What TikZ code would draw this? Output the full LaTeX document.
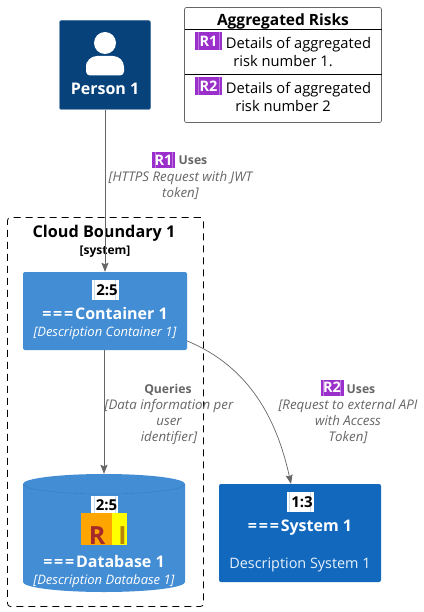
\documentclass[tikz,border=0pt]{standalone}
\usepackage{fontspec}
\setmainfont{Open Sans}
\usetikzlibrary{arrows.meta}
\definecolor{persB}{HTML}{08427B}
\definecolor{contB}{HTML}{438DD5}
\definecolor{sysB}{HTML}{1168BD}
\definecolor{riskP}{HTML}{9A2FCC}
\definecolor{lineG}{HTML}{666666}
\definecolor{descW}{HTML}{E8F1FA}
\definecolor{orangeR}{HTML}{FFA500}
\definecolor{yellowI}{HTML}{FFFF00}
\newcommand{\eqs}{=\kern1.8pt=\kern1.8pt=\kern1.8pt}
\tikzset{
 x=1pt,y=-1pt,
 box/.style={rounded corners=2pt,inner sep=0pt,minimum width=#1},
 conn/.style={draw=lineG,line width=.7pt,-{Stealth[length=9pt,width=7pt,inset=1.5pt]}},
 txt/.style={anchor=base,inner sep=0pt,align=center},
 whitebold/.style={txt,text=white,font=\fontsize{16}{18}\selectfont\bfseries},
 whiteit/.style={txt,text=white,font=\fontsize{13}{15}\selectfont\itshape},
 legtxt/.style={txt,text=black,font=\fontsize{14.7}{17}\selectfont},
 lab/.style={txt,text=lineG,font=\fontsize{12.2}{14}\selectfont\bfseries},
 labit/.style={txt,text=lineG,font=\fontsize{13.3}{16}\selectfont\itshape},
 stripes/.style={path picture={
   \draw[#1,line width=.5pt] ([xshift=3pt]path picture bounding box.north west) -- ([xshift=3pt]path picture bounding box.south west);
   \draw[#1,line width=.5pt] ([xshift=-3pt]path picture bounding box.north east) -- ([xshift=-3pt]path picture bounding box.south east);}},
 riskbadge/.style={fill=riskP,text=white,inner sep=0pt,minimum width=#1,stripes=riskP!65!white,font=\fontsize{14.5}{15}\selectfont\bfseries},
 sprite/.style={fill=white,text=black,inner sep=0pt,minimum width=27pt,minimum height=20pt,stripes=contB!30!white,font=\fontsize{15}{16}\selectfont\bfseries},
}
\begin{document}
\begin{tikzpicture}
\useasboundingbox (0,0) rectangle (423,612);
\fill[white] (0,0) rectangle (423,612);
% boundary
\node[draw=black,dash pattern=on 7pt off 5pt,rounded corners=3pt,line width=.8pt,inner sep=0pt,minimum width=196pt,minimum height=389pt] (bound) at (105.5,412) {};
\node[txt,font=\fontsize{16.2}{18}\selectfont\bfseries] (boundT) at (104,237) {Cloud Boundary 1};
\node[txt,font=\fontsize{12}{14}\selectfont\bfseries] (boundS) at (105,254) {[system]};
% person
\node[box=91pt,fill=persB,draw=persB!80!white,minimum height=89pt] (person) at (105,65) {};
\fill[white] (105,43) circle (11);
\fill[white] (86,66) [rounded corners=11pt] -- (86,56) -- (124,56) [rounded corners=4pt] -- (124,75.5) -- (86,75.5) -- cycle;
\node[whitebold] (personT) at (105,95) {Person 1};
% legend
\node[draw=black!60,rounded corners=2pt,line width=.7pt,inner sep=0pt,minimum width=197pt,minimum height=115pt] (legend) at (283,65) {};
\draw[black,line width=.8pt] (184.5,29.5) -- (381.5,29.5) (184.5,74.5) -- (381.5,74.5);
\node[txt,font=\fontsize{15.5}{17}\selectfont\bfseries] (legT) at (283,26) {Aggregated Risks};
\node[riskbadge=27pt,minimum height=18pt] (legR1) at (208.5,41) {R1};
\node[riskbadge=27pt,minimum height=18pt] (legR2) at (208.5,86) {R2};
\node[legtxt] (legA1) at (298.5,49) {Details of aggregated};
\node[legtxt] (legA2) at (283,67) {risk number 1.};
\node[legtxt] (legB1) at (298.5,94) {Details of aggregated};
\node[legtxt] (legB2) at (283,112) {risk number 2};
% container
\node[box=164pt,fill=contB,minimum height=78pt] (cont) at (105,311) {};
\node[sprite] (contS) at (105,290) {\hspace*{4pt}2:5};
\node[whitebold] (contT) at (105,319) {\eqs Container 1};
\node[whiteit] (contD) at (105,336) {[Description Container 1]};
% database
\node[inner sep=0pt,minimum width=162pt,minimum height=118pt] (db) at (104,533) {};
\fill[contB] (23,484) arc[start angle=180,end angle=360,x radius=81,y radius=10] -- (185,582) arc[start angle=0,end angle=180,x radius=81,y radius=10] -- cycle;
\draw[contB!88!black,line width=.4pt] (23,484) arc[start angle=180,end angle=0,x radius=81,y radius=10];
\node[sprite,minimum height=18.5pt] (dbS) at (104.5,505) {\hspace*{4pt}2:5};
\fill[orangeR] (81,513) rectangle (112,545);
\fill[yellowI] (112,513) rectangle (127,545);
\node[txt,text={rgb,255:red,165;green,42;blue,42},font=\fontsize{25}{27}\selectfont\bfseries] (dbR) at (97,544) {R};
\node[txt,text={rgb,255:red,184;green,134;blue,11},font=\fontsize{25}{27}\selectfont\bfseries] (dbI) at (122.5,544) {I};
\node[whitebold] (dbT) at (104,567) {\eqs Database 1};
\node[whiteit] (dbD) at (104,584) {[Description Database 1]};
% system
\node[box=162pt,fill=sysB,minimum height=98pt] (sys) at (300,533) {};
\node[sprite] (sysS) at (300,501.7) {\hspace*{4pt}1:3};
\node[whitebold] (sysT) at (300,531) {\eqs System 1};
\node[txt,text=descW,font=\fontsize{14.4}{16}\selectfont] (sysD) at (300,568) {Description System 1};
% connectors
\draw[conn] (person) -- (cont);
\draw[conn] (cont.south-|db) -- (db.north);
\draw[conn] (cont.east|-0,341) .. controls (250,367) and (277,420) .. (sys.north-|291,0);
% labels
\node[riskbadge=23pt,minimum height=16pt] (lR1) at (163.5,160) {R1};
\node[lab] (lU1) at (193,165) {Uses};
\node[labit] (l1a) at (180.5,182) {[HTTPS Request with JWT};
\node[labit] (l1b) at (180.5,198) {token]};
\node[lab] (lQ) at (168,393) {Queries};
\node[labit] (lQa) at (169,409) {[Data information per};
\node[labit] (lQb) at (169,425) {user};
\node[labit] (lQc) at (169,441) {identifier]};
\node[riskbadge=23pt,minimum height=16pt] (lR2) at (332,387.5) {R2};
\node[lab] (lU2) at (361,393) {Uses};
\node[labit] (l2a) at (348,409) {[Request to external API};
\node[labit] (l2b) at (348,425) {with Access};
\node[labit] (l2c) at (348,441) {Token]};
\end{tikzpicture}
\end{document}
